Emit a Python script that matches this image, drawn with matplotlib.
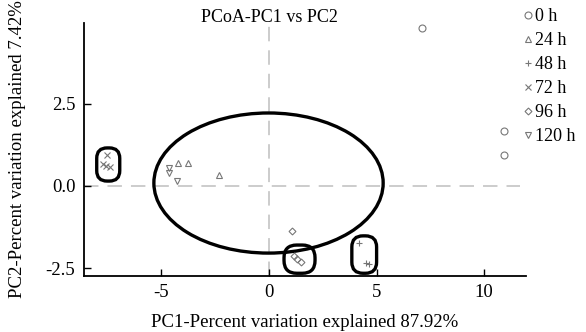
import matplotlib
matplotlib.use('Agg')
import matplotlib.pyplot as plt
from matplotlib.patches import Ellipse, FancyBboxPatch

plt.rcParams['font.family'] = ['Liberation Serif', 'DejaVu Serif']
plt.rcParams['font.size'] = 13

# PCoA scores
groups = ['0 h', '24 h', '48 h', '72 h', '96 h', '120 h']
markers = ['o', '^', '+', 'x', 'D', 'v']
pc1 = {
    '0 h': [7.1, 10.93, 10.93],
    '24 h': [-4.22, -3.78, -2.31],
    '48 h': [4.19, 4.5, 4.67],
    '72 h': [-7.52, -7.71, -7.58, -7.36],
    '96 h': [1.07, 1.16, 1.32, 1.49],
    '120 h': [-4.65, -4.62, -4.27],
}
pc2 = {
    '0 h': [4.82, 1.68, 0.95],
    '24 h': [0.71, 0.71, 0.34],
    '48 h': [-1.75, -2.34, -2.39],
    '72 h': [0.95, 0.66, 0.61, 0.57],
    '96 h': [-1.37, -2.12, -2.22, -2.33],
    '120 h': [0.54, 0.39, 0.16],
}

fig = plt.figure(figsize=(5.86, 3.32), dpi=100)
ax = fig.add_axes([0.143, 0.169, 0.755, 0.762])

# dashed zero lines
ax.axhline(0, color='#c8c8c8', lw=1.3, dashes=(8, 5), zorder=1, xmax=0.985)
ax.axvline(0, color='#c8c8c8', lw=1.3, dashes=(8, 5), zorder=1)

for g, m in zip(groups, markers):
    ms = 3.5 if m == 'D' else 5
    ax.plot(pc1[g], pc2[g], linestyle='none', marker=m, ms=ms, mfc='none',
            mec='#777777', mew=0.8, label=g)

ax.add_patch(Ellipse((-0.02, 0.09), 10.65, 4.27, fill=False, ec='black', lw=2.4))

# rounded boxes around clusters (corner rounding corrected for the axes aspect)
asp = 21.5 / 32.8
for (x0, x1, y0, y1) in [(-8.0, -6.93, 0.15, 1.16), (0.7, 2.14, -2.66, -1.8), (3.85, 5.0, -2.66, -1.52)]:
    r = min(x1 - x0, (y1 - y0) / asp) * 0.45
    ax.add_patch(FancyBboxPatch((x0, y0), x1 - x0, y1 - y0,
                                boxstyle='round,pad=0,rounding_size=%.3f' % r,
                                mutation_aspect=asp, fill=False, ec='black', lw=2.4))

ax.text(0, 5.12, 'PCoA-PC1 vs PC2', ha='center', va='center', fontsize=13)

ax.set_xlim(-8.6, 11.95)
ax.set_ylim(-2.74, 4.97)
ax.set_xticks([-5, 0, 5, 10])
ax.set_xticklabels(['-5', '0', '5', '10'])
ax.set_yticks([-2.5, 0, 2.5])
ax.set_yticklabels(['-2.5', '0.0', '2.5'])
ax.tick_params(direction='in', length=5, width=1, pad=6, labelsize=13.5)
for s in ['top', 'right']:
    ax.spines[s].set_visible(False)
for s in ['left', 'bottom']:
    ax.spines[s].set_linewidth(1.3)

ax.set_xlabel('PC1-Percent variation explained 87.92%', labelpad=9, fontsize=13.5)
ax.set_ylabel('PC2-Percent variation explained 7.42%', labelpad=14, fontsize=13.5)

ax.legend(loc='upper left', bbox_to_anchor=(0.993, 1.058), frameon=False,
          handlelength=0.5, handletextpad=0.15, labelspacing=0.39,
          borderaxespad=0, borderpad=0, fontsize=13)

fig.savefig('out.png', dpi=100)
